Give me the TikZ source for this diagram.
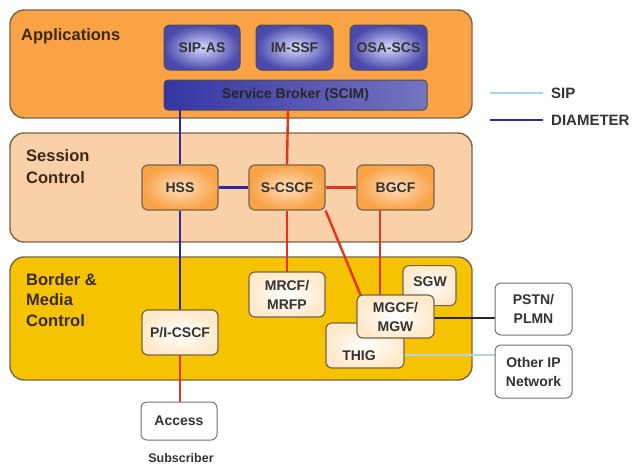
\documentclass[tikz,border=0pt]{standalone}
\usepackage{fontspec}
\setmainfont{Liberation Sans}
\definecolor{appfill}{HTML}{F9A346}
\definecolor{sessfill}{HTML}{FAD0A8}
\definecolor{bordfill}{HTML}{F6C300}
\definecolor{bandline}{HTML}{7A6448}
\definecolor{navy}{HTML}{2A2A9E}
\definecolor{sipred}{HTML}{E2341E}
\definecolor{siplight}{HTML}{B0D4EA}
\definecolor{labeltext}{HTML}{3A2A14}
\definecolor{nodetext}{HTML}{333333}
\begin{document}
\begin{tikzpicture}[x=1pt,y=-1pt,
  band/.style={draw=bandline,line width=1.4pt,rounded corners=14pt,inner sep=0pt},
  bandlabel/.style={anchor=north west,align=left,text=labeltext,inner sep=0pt},
  nodefont/.style={font=\bfseries\fontsize{14}{19}\selectfont},
  appbox/.style={draw=black!70,line width=1pt,rounded corners=6pt,inner color=blue!15!white,outer color=navy!85,
    nodefont,text=black!80,inner sep=0pt},
  sessbox/.style={draw=bandline,line width=1.2pt,rounded corners=6pt,inner color=orange!25!white,outer color=appfill,
    nodefont,text=nodetext,inner sep=0pt},
  medbox/.style={draw=bandline,line width=1.2pt,rounded corners=6pt,inner color=white,outer color=yellow!15!orange!20!white,
    nodefont,text=nodetext,align=center,inner sep=0pt},
  extbox/.style={draw=black!55,line width=1pt,rounded corners=6pt,fill=white,
    nodefont,text=nodetext,align=center,inner sep=0pt},
  legendtext/.style={anchor=west,inner sep=0pt,font=\bfseries\fontsize{15}{17}\selectfont,text=nodetext},
  diam/.style={navy,line width=2.4pt},
  sip/.style={sipred,line width=2.4pt},
]
\useasboundingbox (0,0) rectangle (644,467);

% layer bands
\node[band,fill=appfill,minimum width=462pt,minimum height=108pt] (apps) at (241,64) {};
\node[band,fill=sessfill,minimum width=462pt,minimum height=109pt] (sess) at (241,187.5) {};
\node[band,fill=bordfill,minimum width=462pt,minimum height=123pt] (bord) at (241,318.5) {};

\node[bandlabel,font=\bfseries\fontsize{16.5}{22}\selectfont] (lapps) at (21,28) {Applications};
\node[bandlabel,font=\bfseries\fontsize{16.5}{22}\selectfont] (lsess) at (26,149) {Session\\Control};
\node[bandlabel,font=\bfseries\fontsize{16.5}{20.5}\selectfont] (lbord) at (26,273) {Border \&\\Media\\Control};

% application servers
\node[appbox,minimum width=76pt,minimum height=45pt] (sipas) at (202,47.5) {SIP-AS};
\node[appbox,minimum width=77pt,minimum height=45pt] (imssf) at (294.5,47.5) {IM-SSF};
\node[appbox,minimum width=77pt,minimum height=45pt] (osascs) at (388.5,47.5) {OSA-SCS};
\node[draw=black!70,line width=1pt,rounded corners=4pt,left color=navy!95,right color=navy!65!white,
  minimum width=263pt,minimum height=30pt,inner sep=0pt,
  nodefont,text=black!85] (broker) at (295.5,95) {Service Broker (SCIM)};

% coordinates for connector ends
\coordinate (bhss) at (180,110);
\coordinate (bscscf) at (288,110);

% session control nodes
\node[sessbox,minimum width=76pt,minimum height=45pt] (hss) at (180,187.5) {HSS};
\node[sessbox,minimum width=76pt,minimum height=45pt] (scscf) at (287,187.5) {S-CSCF};
\node[sessbox,minimum width=77pt,minimum height=45pt] (bgcf) at (395.5,187.5) {BGCF};

% connectors (drawn under the media nodes)
\draw[diam] (bhss) -- (hss.north);
\draw[diam] (hss.south) -- (180,310);
\draw[diam] (hss.east) -- (scscf.west);
\draw[sip] (bscscf) -- (scscf.north);
\draw[sip] (scscf.east) -- (bgcf.west);
\draw[sip] (scscf.south) -- (287,272);
\draw[sip] (scscf.south east) -- (361,296);
\draw[sip] (380,210) -- (380,296);
\draw[sip] (180,355) -- (180,402);
\draw[black!85,line width=2pt] (434,318) -- (495,318);
\draw[siplight,line width=1.6pt] (404,355) -- (495,355);

% border and media nodes
\node[medbox,minimum width=76pt,minimum height=45pt] (mrcf) at (287,294.5) {MRCF/\\MRFP};
\node[medbox,minimum width=53pt,minimum height=40pt,anchor=north] (sgw) at (429.5,265) {};
\node[nodefont,text=nodetext] (sgwl) at (430,282) {SGW};
\node[medbox,minimum width=78pt,minimum height=45pt] (thig) at (365,345.5) {};
\node[nodefont,text=nodetext] (thigl) at (359,356) {THIG};
\node[medbox,minimum width=77pt,minimum height=43pt] (mgcf) at (395.5,316.5) {MGCF/\\MGW};
\node[medbox,minimum width=76pt,minimum height=45pt] (picscf) at (180,332.5) {P/I-CSCF};

% external networks and access
\node[extbox,minimum width=77pt,minimum height=52pt] (pstn) at (533.5,309) {PSTN/\\PLMN};
\node[extbox,minimum width=77pt,minimum height=53pt] (other) at (533.5,371.5) {Other IP\\Network};
\node[extbox,minimum width=76pt,minimum height=38pt] (access) at (179,421) {Access};
\node[font=\bfseries\fontsize{12.5}{15}\selectfont,text=nodetext,inner sep=0pt] (subs) at (181,458) {Subscriber};

% legend
\coordinate (s1) at (490,93);
\coordinate (s2) at (543,93);
\coordinate (d1) at (490,120);
\coordinate (d2) at (543,120);
\draw[siplight,line width=1.6pt] (s1) -- (s2);
\draw[navy,line width=2.4pt] (d1) -- (d2);
\node[legendtext] (lsip) at (551,93) {SIP};
\node[legendtext] (ldiam) at (551,120) {DIAMETER};
\end{tikzpicture}
\end{document}
